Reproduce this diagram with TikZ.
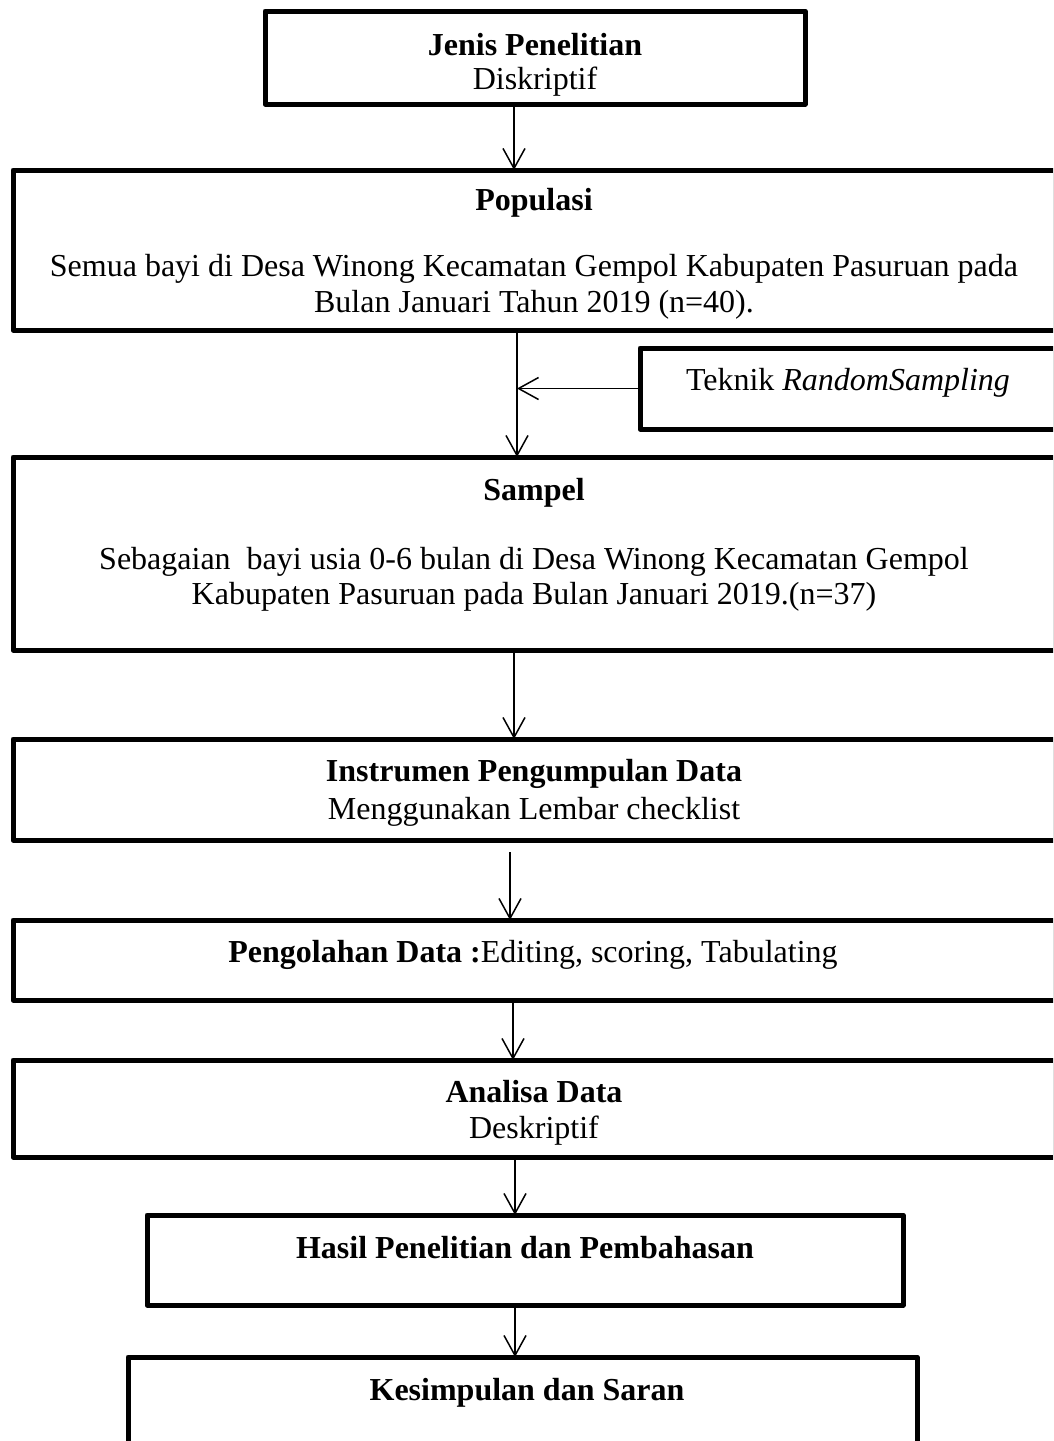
\documentclass[tikz,border=0pt]{standalone}
\usepackage{fontspec}
\setmainfont{Liberation Serif}
\usetikzlibrary{arrows.meta}
\tikzset{
  boxnode/.style={draw=black, line width=5pt, line join=round, rectangle, inner sep=0pt, outer sep=0pt},
  txt/.style={anchor=base, inner sep=0pt, font=\fontsize{32}{38}\selectfont},
  arr/.style={line width=1.5pt, -{Straight Barb[length=20pt,width=22pt,line width=1.5pt]}},
}
\begin{document}
\begin{tikzpicture}[x=1pt,y=-1pt]
\useasboundingbox (0,0) rectangle (1053,1441);
\clip (0,0) rectangle (1053,1441);
% boxes
\node[boxnode, minimum width=540pt, minimum height=93pt] (b1) at (535,57.5) {};
\node[boxnode, minimum width=1042.5pt, minimum height=160pt] (b2) at (534.25,250) {};
\node[boxnode, minimum width=415.5pt, minimum height=81pt] (tk) at (847.75,388.5) {};
\node[boxnode, minimum width=1042.5pt, minimum height=193pt] (b3) at (534.25,553.5) {};
\node[boxnode, minimum width=1042.5pt, minimum height=101pt] (b4) at (534.25,789.5) {};
\node[boxnode, minimum width=1042.5pt, minimum height=80pt] (b5) at (534.25,960) {};
\node[boxnode, minimum width=1042.5pt, minimum height=97pt] (b6) at (534.25,1108.5) {};
\node[boxnode, minimum width=756pt, minimum height=90pt] (b7) at (525,1260) {};
\node[boxnode, minimum width=789pt, minimum height=123pt] (b8) at (522.5,1418.5) {};
% texts
\node[txt] (t1a) at (535,55) {\textbf{Jenis Penelitian}};
\node[txt] (t1b) at (535,89) {Diskriptif};
\node[txt] (t2a) at (534,210) {\textbf{Populasi}};
\node[txt] (t2b) at (534,276) {Semua bayi di Desa Winong Kecamatan Gempol Kabupaten Pasuruan pada};
\node[txt] (t2c) at (534,312) {Bulan Januari Tahun 2019 (n=40).};
\node[txt] (ttk) at (848,390) {Teknik \textit{RandomSampling}};
\node[txt] (t3a) at (534,500) {\textbf{Sampel}};
\node[txt] (t3b) at (534,569) {Sebagaian\ \ bayi usia 0-6 bulan di Desa Winong Kecamatan Gempol};
\node[txt] (t3c) at (534,604) {Kabupaten Pasuruan pada Bulan Januari 2019.(n=37)};
\node[txt] (t4a) at (534,781) {\textbf{Instrumen Pengumpulan Data}};
\node[txt] (t4b) at (534,819) {Menggunakan Lembar checklist};
\node[txt] (t5) at (533,962) {\textbf{Pengolahan Data :}Editing, scoring, Tabulating};
\node[txt] (t6a) at (534,1102) {\textbf{Analisa Data}};
\node[txt] (t6b) at (534,1138) {Deskriptif};
\node[txt] (t7) at (525,1258) {\textbf{Hasil Penelitian dan Pembahasan}};
\node[txt] (t8) at (527,1400) {\textbf{Kesimpulan dan Saran}};
% connector x positions
\coordinate (x1) at (514,0);
\coordinate (x2) at (517,0);
\coordinate (x3) at (514,0);
\coordinate (s4) at (510,852);
\coordinate (x5) at (513,0);
\coordinate (x6) at (515,0);
% connectors
\draw[arr] (b1.south -| x1) -- (b2.north -| x1);
\draw[arr] (b2.south -| x2) -- (b3.north -| x2);
\draw[arr] (tk.west) -- (tk.west -| x2);
\draw[arr] (b3.south -| x3) -- (b4.north -| x3);
\draw[arr] (s4) -- (b5.north -| s4);
\draw[arr] (b5.south -| x5) -- (b6.north -| x5);
\draw[arr] (b6.south -| x6) -- (b7.north -| x6);
\draw[arr] (b7.south -| x6) -- (b8.north -| x6);
\end{tikzpicture}
\end{document}
